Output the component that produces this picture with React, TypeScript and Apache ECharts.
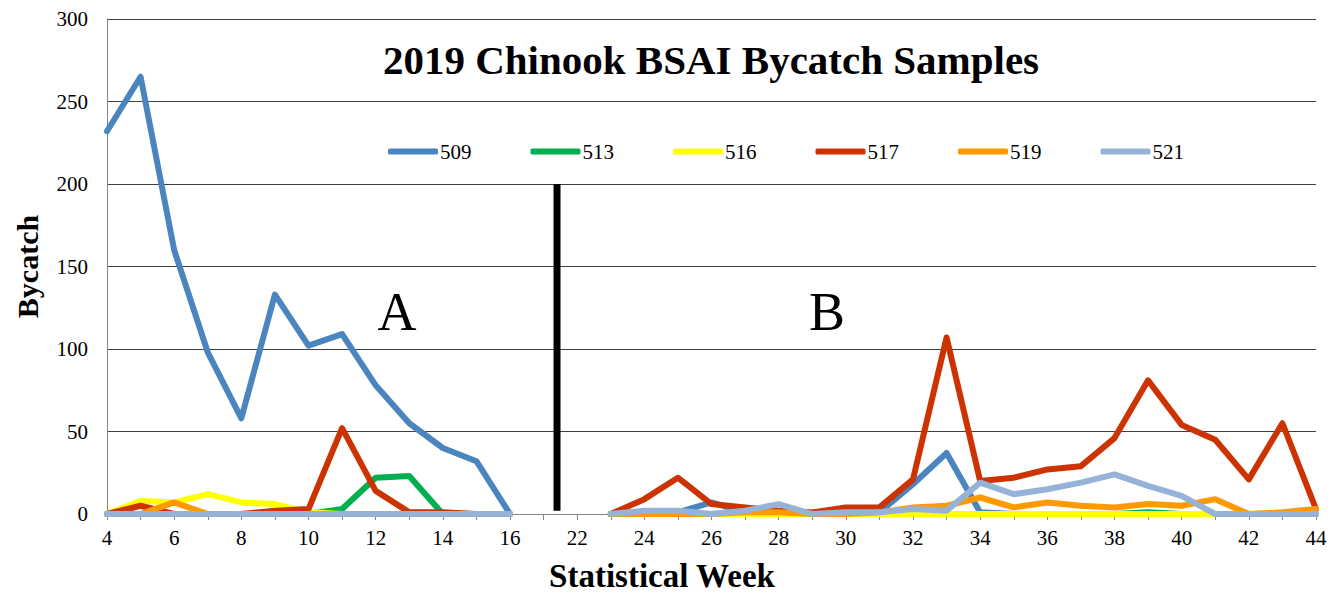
import React, { useEffect, useRef } from 'react';
import * as echarts from 'echarts';

// Statistical weeks (one hidden slot between 16 and 22)
const weeks = ['4','5','6','7','8','9','10','11','12','13','14','15','16','21','22',
  '23','24','25','26','27','28','29','30','31','32','33','34','35','36','37','38','39','40','41','42','43','44'];

const s509 = [232,265,160,98,58,133,102,109,78,55,40,32,0,null,null,
  0,1,1,7,1,0,0,1,1,18,37,1,0,0,0,0,0,0,0,0,0,0];
const s513 = [0,0,0,0,0,0,0,3,22,23,0,0,0,null,null,
  0,0,0,0,0,0,0,0,0,0,0,0,0,0,0,0,1,0,0,0,0,0];
const s516 = [0,8,7,12,7,6,1,0,0,0,0,0,0,null,null,
  0,0,0,0,0,0,0,0,0,0,0,0,0,0,0,0,0,0,0,0,0,0];
const s517 = [0,5,0,0,0,2,3,52,14,1,1,0,0,null,null,
  0,9,22,6,4,2,1,4,4,21,107,20,22,27,29,46,81,54,45,21,55,3];
const s519 = [0,0,7,0,0,0,0,0,0,0,0,0,0,null,null,
  0,0,0,0,1,1,0,0,1,4,5,10,4,7,5,4,6,5,9,0,1,3];
const s521 = [0,0,0,0,0,0,0,0,0,0,0,0,0,null,null,
  0,2,2,0,2,6,0,1,1,3,2,19,12,15,19,24,17,11,0,0,0,0];

const seriesNames = ['509','513','516','517','519','521'];
const seriesColors = ['#4A85BF','#00B050','#FFFF00','#CC3300','#FF9900','#95B3D7'];
const seriesData = [s509, s513, s516, s517, s519, s521];

// Season divider between A and B (position in category units, value extent)
const dividerPos = 13.4;
const dividerRange = [2, 200];

const yTicks = { min: 0, max: 300, interval: 50 };

const FONT = 'Liberation Serif';

export default function App() {
  const ref = useRef<HTMLDivElement>(null);
  useEffect(() => {
    if (!ref.current) return;
    const chart = echarts.init(ref.current, null, { renderer: 'svg' });
    const lines = seriesNames.map((n, i) => ({
      name: n,
      type: 'line',
      data: seriesData[i],
      symbol: 'none',
      connectNulls: false,
      lineStyle: { color: seriesColors[i], width: 6, join: 'round', cap: 'round' },
      itemStyle: { color: seriesColors[i] },
      z: 2 + i,
    }));
    chart.setOption({
      animation: false,
      backgroundColor: '#fff',
      textStyle: { fontFamily: FONT },
      grid: { left: 107, right: 14, top: 19, bottom: 81, outerBoundsMode: 'none' },
      legend: {
        data: seriesNames,
        left: 383,
        top: 136,
        icon: 'roundRect',
        itemWidth: 50,
        itemHeight: 6,
        itemGap: 59,
        textStyle: { fontFamily: FONT, fontSize: 21, color: '#000', padding: [0, 0, 0, -3] },
      },
      xAxis: [
        {
          type: 'category',
          data: weeks,
          boundaryGap: false,
          axisLine: { lineStyle: { color: '#868686', width: 1 } },
          axisTick: { show: true, interval: 0, length: 6, lineStyle: { color: '#868686' } },
          axisLabel: { interval: 1, color: '#000', fontSize: 21, fontFamily: FONT, margin: 13 },
          splitLine: { show: false },
        },
        {
          type: 'value',
          min: 0,
          max: weeks.length - 1,
          show: false,
        },
      ],
      yAxis: {
        type: 'value',
        min: yTicks.min,
        max: yTicks.max,
        interval: yTicks.interval,
        name: 'Bycatch',
        nameLocation: 'middle',
        nameGap: 65,
        nameTextStyle: { fontFamily: FONT, fontSize: 30, fontWeight: 'bold', color: '#000' },
        axisLine: { show: true, lineStyle: { color: '#868686', width: 1 } },
        axisTick: { show: false },
        axisLabel: { color: '#000', fontSize: 21, fontFamily: FONT, margin: 19 },
        splitLine: { lineStyle: { color: '#404040', width: 1 } },
      },
      graphic: [
        {
          type: 'text', x: 711, y: 60,
          style: { text: '2019 Chinook BSAI Bycatch Samples', font: `bold 41px "${FONT}"`, fill: '#000', align: 'center', verticalAlign: 'middle' },
        },
        {
          type: 'text', x: 662, y: 576,
          style: { text: 'Statistical Week', font: `bold 33px "${FONT}"`, fill: '#000', align: 'center', verticalAlign: 'middle' },
        },
        {
          type: 'text', x: 397, y: 312,
          style: { text: 'A', font: `54px "${FONT}"`, fill: '#000', align: 'center', verticalAlign: 'middle' },
        },
        {
          type: 'text', x: 827, y: 312,
          style: { text: 'B', font: `54px "${FONT}"`, fill: '#000', align: 'center', verticalAlign: 'middle' },
        },
      ],
      series: [
        ...lines,
        {
          name: 'divider',
          type: 'line',
          xAxisIndex: 1,
          yAxisIndex: 0,
          data: [[dividerPos, dividerRange[0]], [dividerPos, dividerRange[1]]],
          symbol: 'none',
          lineStyle: { color: '#000', width: 7 },
          z: 10,
        },
      ],
    });
    return () => chart.dispose();
  }, []);
  return <div ref={ref} style={{ position: 'fixed', left: 0, top: 0, width: 1330, height: 595 }} />;
}
